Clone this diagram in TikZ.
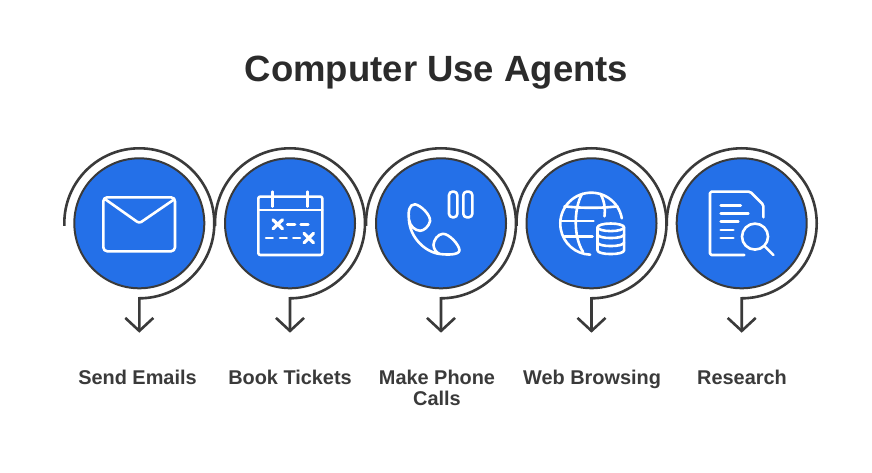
\documentclass[tikz,border=0pt]{standalone}
\usepackage{fontspec}
\setmainfont{Liberation Sans}
\usetikzlibrary{arrows.meta,calc}
\definecolor{ink}{HTML}{3A3A3A}
\definecolor{titleink}{HTML}{2B2B2B}
\definecolor{disc}{HTML}{2470E8}
\tikzset{
  discnode/.style={circle,draw=ink,line width=2pt,fill=disc,minimum size=130pt,inner sep=0pt},
  ringline/.style={draw=ink,line width=2.6pt,line join=miter,-{Straight Barb[length=13pt,width=28pt,line width=2.6pt]}},
  labeltext/.style={text=ink,font=\bfseries\fontsize{19.9}{21}\selectfont,align=center,anchor=north,inner sep=0pt},
  titletext/.style={text=titleink,font=\bfseries\fontsize{36.5}{40}\selectfont,anchor=base},
  iconline/.style={draw=white,line width=2.6pt,line cap=round,line join=round}
}
\begin{document}
\begin{tikzpicture}[x=1pt,y=-1pt]
\useasboundingbox (0,0) rectangle (872,473);
\fill[white] (0,0) rectangle (872,473);
\node[titletext] (title) at (436.5,82) {Computer Use Agents};
\foreach \i/\cx in {1/139.3,2/290,3/441,4/591.5,5/741.7}{
  \node[discnode] (c\i) at (\cx,223.3) {};
  \coordinate (s\i) at ($(c\i.center)+(-75,2.5)$);
  \coordinate (t\i) at ($(c\i.center)+(0,109.4)$);
  \draw[ringline] (s\i) -- ++(0,-2.5) arc[start angle=180,end angle=-90,radius=75pt] -- (t\i);
}
\node[labeltext] (l1) at (137.5,369.5) {Send Emails};
\node[labeltext] (l2) at (290,369.5) {Book Tickets};
\node[labeltext] (l3) at (437,369.5) {Make Phone\\Calls};
\node[labeltext] (l4) at (592,369.5) {Web Browsing};
\node[labeltext] (l5) at (742,369.5) {Research};
% mail
\begin{scope}[shift={(c1.center)}]
  \draw[iconline,rounded corners=4pt] (-36,-26) rectangle (35.7,28);
  \draw[iconline,rounded corners=2.5pt] (-34,-24) -- (0,0) -- (35,-24);
\end{scope}
% calendar
\begin{scope}[shift={(c2.center)}]
  \draw[iconline,rounded corners=2pt] (-31.7,-26.7) rectangle (32.3,31.7);
  \draw[iconline] (-31.7,-13.3) -- (32.3,-13.3);
  \draw[iconline] (-17.7,-31.7) -- (-17.7,-16.7) (17.3,-31.7) -- (17.3,-16.7);
  \draw[iconline,line width=3.2pt] (-17,-3.5) -- (-7.5,5.5) (-17,5.5) -- (-7.5,-3.5);
  \draw[iconline] (-2.7,1) -- (5,1) (10.7,1) -- (18.3,1);
  \draw[iconline] (-24,14.7) -- (-17.3,14.7) (-10,14.7) -- (-3.3,14.7) (3.3,14.7) -- (10,14.7);
  \draw[iconline,line width=3.2pt] (14,10) -- (23.5,19.5) (14,19.5) -- (23.5,10);
\end{scope}
% phone
\begin{scope}[shift={(c3.center)}]
  \draw[iconline,rounded corners=3.5pt] (8,-31.7) rectangle (16.3,-6);
  \draw[iconline,rounded corners=3.5pt] (22.3,-31.7) rectangle (31.3,-6);
  \draw[iconline] (-32,-3.3) .. controls (-33,-12) and (-32,-19) .. (-26,-19)
     .. controls (-20,-18) and (-10,-8) .. (-11,-2)
     .. controls (-12,3) and (-17,7.5) .. (-21,7.5)
     .. controls (-26,7) and (-31,3) .. (-32,-3.3);
  \draw[iconline] (-32,-3.3) .. controls (-31,14) and (-16,29) .. (-1,30.7)
     .. controls (6,31.5) and (18,32) .. (18.5,27)
     .. controls (18,21) and (8,10.5) .. (2,10.5)
     .. controls (-3,10.5) and (-7.5,17) .. (-7.5,21.7)
     .. controls (-7.5,26) and (-4,30) .. (-1,30.7);
\end{scope}
% globe and database
\begin{scope}[shift={(c4.center)}]
  \draw[iconline] (30.3,-5) arc[start angle=10,end angle=268,radius=31pt];
  \draw[iconline] (-9.5,-29.5) .. controls (-18,-14) and (-18,14) .. (-8.5,28.5);
  \draw[iconline] (9,-29.5) .. controls (13,-22) and (14,-14) .. (13,-7);
  \draw[iconline] (-27,-17) .. controls (-10,-15) and (10,-15) .. (26,-17);
  \draw[iconline] (-31,-2.3) -- (2,-2.3);
  \draw[iconline] (-27,13.3) -- (1,13.3);
  \draw[iconline] (19.3,4) ellipse[x radius=13.3pt,y radius=3.8pt];
  \draw[iconline] (6,4) -- (6,27) .. controls (6,32) and (32.6,32) .. (32.6,27) -- (32.6,4);
  \draw[iconline] (6,11) .. controls (6,16) and (32.6,16) .. (32.6,11);
  \draw[iconline] (6,19) .. controls (6,24) and (32.6,24) .. (32.6,19);
\end{scope}
% research
\begin{scope}[shift={(c5.center)}]
  \draw[iconline,rounded corners=1.5pt] (21.7,-6) -- (21.7,-18.3) -- (8.3,-31.7) -- (-31.7,-31.7) -- (-31.7,31.7) -- (2.7,31.7);
  \draw[iconline] (-21,-17.7) -- (-1,-17.7) (-21,-10) -- (6.7,-10) (-21,-1.7) -- (-3.3,-1.7) (-21,6.7) -- (-8.3,6.7) (-21,14.7) -- (-8.3,14.7);
  \draw[iconline] (13.3,13.3) circle[radius=13pt];
  \draw[iconline] (22.7,22.7) -- (31.7,31.7);
\end{scope}
\end{tikzpicture}
\end{document}
